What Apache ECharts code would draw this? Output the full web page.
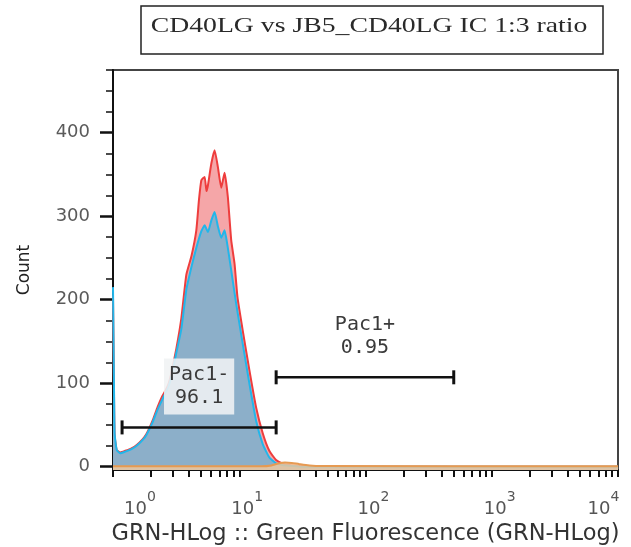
<!DOCTYPE html>
<html>
<head>
<meta charset="utf-8">
<script src="https://cdn.jsdelivr.net/npm/echarts@6/dist/echarts.min.js"></script>
<style>
  html, body { margin: 0; padding: 0; background: #fff; }
  #chart { width: 631px; height: 547px; }
</style>
</head>
<body>
<div id="chart"></div>
<script>
// histogram curves: [GRN-HLog value, count]
const sampleRed = [
  [1.0, 205], [1.015, 110], [1.03, 38], [1.07, 20], [1.14, 17], [1.25, 19], [1.4, 22],
  [1.54, 26], [1.72, 33], [1.84, 39], [2.07, 56], [2.25, 71], [2.45, 84], [2.6, 91],
  [2.75, 99], [2.9, 112], [3.18, 142], [3.48, 178], [3.81, 230], [4.18, 252], [4.57, 283],
  [4.8, 320], [5.01, 343], [5.32, 347], [5.5, 330], [5.65, 337], [6.01, 363], [6.38, 379],
  [6.77, 359], [7.2, 334], [7.65, 352], [8.12, 323], [8.64, 271], [9.18, 243], [9.68, 203],
  [10.66, 163], [12.05, 115], [13.6, 71], [15.35, 40], [17.3, 19], [19.56, 8], [21.9, 4],
  [25, 2], [30, 1], [40, 0], [10000, 0]
];
const sampleBlue = [
  [1.0, 215], [1.015, 120], [1.03, 40], [1.07, 20], [1.14, 16], [1.25, 18], [1.4, 21],
  [1.54, 25], [1.72, 32], [1.84, 38], [2.07, 54], [2.25, 68], [2.45, 80], [2.6, 88],
  [2.75, 96], [2.9, 108], [3.18, 137], [3.48, 165], [3.81, 212], [4.18, 239], [4.57, 262],
  [5.01, 282], [5.32, 289], [5.65, 281], [6.01, 295], [6.38, 305], [6.77, 288], [7.2, 274],
  [7.65, 283], [8.12, 262], [8.64, 235], [9.46, 195], [10.66, 147], [12.05, 99], [13.6, 55],
  [15.35, 27], [17.3, 11], [19.56, 4], [21.9, 2], [25, 1], [30, 0], [10000, 0]
];
const sampleOrange = [
  [1, 0.5], [15, 0.5], [18, 1.5], [20, 3.5], [23, 5], [26, 4.5], [30, 3], [36, 1.5],
  [45, 0.8], [10000, 0.5]
];

// gates
const gateNames = ['Pac1-', 'Pac1+'];
const gatePercents = ['96.1', '0.95'];
const gateRanges = [[1.18, 19.6], [19.6, 500]];
const gateLevels = [47, 107];

// axes
const xMajorTicks = [1, 10, 100, 1000, 10000];
const yMajorTicks = [0, 100, 200, 300, 400];
const yMinorTicks = [25, 50, 75, 125, 150, 175, 225, 250, 275, 325, 350, 375, 425, 450, 475];
// all x ticks: decades plus 2..9 inside each decade
const xAllTicks = xMajorTicks.slice();
xMajorTicks.slice(0, -1).forEach(d => { for (let k = 2; k <= 9; k++) xAllTicks.push(d * k); });

const chart = echarts.init(document.getElementById('chart'));

const option = {
  animation: false,
  backgroundColor: '#fff',
  grid: {
    left: 113, right: 13, top: 70, bottom: 77,
    outerBoundsMode: 'none',
    show: true, borderColor: '#444', borderWidth: 2, backgroundColor: '#fff'
  },
  xAxis: {
    type: 'log', logBase: 10, min: 1, max: 10000, position: 'bottom',
    name: 'GRN-HLog :: Green Fluorescence (GRN-HLog)',
    nameLocation: 'middle', nameGap: 49,
    nameTextStyle: { fontFamily: 'DejaVu Sans', fontSize: 22.5, color: '#333' },
    axisLine: { onZero: false, lineStyle: { color: '#111', width: 2 } },
    axisTick: { show: true, customValues: xAllTicks, length: 7, lineStyle: { color: '#111', width: 2 } },
    splitLine: { show: false },
    axisLabel: {
      customValues: xMajorTicks,
      margin: 20,
      padding: [0, 0, 0, 16],
      formatter: v => {
        const e = Math.round(Math.log10(v));
        const b = e === 0 ? 'first' : 'b';
        const s = e === 4 ? 'last' : 's';
        return '{' + b + '|10}{' + s + '|' + e + '}';
      },
      rich: {
        b: { fontFamily: 'DejaVu Sans', fontSize: 18, color: '#555', lineHeight: 28, verticalAlign: 'bottom' },
        first: { fontFamily: 'DejaVu Sans', fontSize: 18, color: '#555', lineHeight: 28, verticalAlign: 'bottom', padding: [0, 0, 0, 38] },
        s: { fontFamily: 'DejaVu Sans', fontSize: 14, color: '#555', lineHeight: 28, verticalAlign: 'top' },
        last: { fontFamily: 'DejaVu Sans', fontSize: 14, color: '#555', lineHeight: 28, verticalAlign: 'top', padding: [0, 45, 0, 0] }
      }
    }
  },
  yAxis: [
    {
      type: 'value', min: -4, max: 475,
      name: 'Count', nameLocation: 'middle', nameGap: 80, nameRotate: 90,
      nameTextStyle: { fontFamily: 'DejaVu Sans', fontSize: 17, color: '#222' },
      axisLine: { show: true, onZero: false, lineStyle: { color: '#111', width: 2 } },
      axisTick: { show: true, customValues: yMajorTicks, length: 13, lineStyle: { color: '#111', width: 2.5 } },
      splitLine: { show: false },
      axisLabel: {
        customValues: yMajorTicks, margin: 23,
        fontFamily: 'DejaVu Sans', fontSize: 18, color: '#5a5a5a'
      }
    },
    {
      type: 'value', min: -4, max: 475, position: 'left',
      axisLine: { show: false },
      axisLabel: { show: false },
      splitLine: { show: false },
      axisTick: { show: true, customValues: yMinorTicks, length: 7, lineStyle: { color: '#111', width: 1.5 } }
    }
  ],
  graphic: [
    {
      type: 'rect',
      shape: { x: 141, y: 6, width: 462, height: 48 },
      style: { fill: '#fff', stroke: '#222', lineWidth: 1.5 }
    },
    {
      type: 'text', x: 369, y: 26, scaleX: 1.32,
      style: {
        text: 'CD40LG vs JB5_CD40LG IC 1:3 ratio',
        font: '21px "Liberation Serif"', fill: '#2a2a2a',
        align: 'center', verticalAlign: 'middle'
      }
    }
  ],
  series: [
    {
      type: 'line', data: sampleRed, symbol: 'none', smooth: 0.15, z: 2,
      lineStyle: { color: '#ee3d3d', width: 2 },
      areaStyle: { color: '#f5a6a8', opacity: 1, origin: 'start' }
    },
    {
      type: 'line', data: sampleBlue, symbol: 'none', smooth: 0.15, z: 3,
      lineStyle: { color: '#22b6ea', width: 2 },
      areaStyle: { color: '#8cafc9', opacity: 1, origin: 'start' }
    },
    {
      type: 'line', data: sampleOrange, symbol: 'none', smooth: 0.3, z: 4,
      lineStyle: { color: '#e69a52', width: 2 },
      areaStyle: { color: '#f3c89c', opacity: 0.8, origin: 'start' }
    },
    {
      type: 'custom', z: 10,
      data: gateRanges.map((r, i) => [r[0], r[1], gateLevels[i], i]),
      encode: { x: [0, 1], y: 2 },
      renderItem: (params, api) => {
        const i = api.value(3);
        const a = api.coord([api.value(0), api.value(2)]);
        const b = api.coord([api.value(1), api.value(2)]);
        const cap = { stroke: '#111', lineWidth: 3 };
        return {
          type: 'group',
          children: [
            { type: 'line', shape: { x1: a[0], y1: a[1], x2: b[0], y2: b[1] }, style: { stroke: '#111', lineWidth: 2.5 } },
            { type: 'line', shape: { x1: a[0], y1: a[1] - 7, x2: a[0], y2: a[1] + 7 }, style: cap },
            { type: 'line', shape: { x1: b[0], y1: b[1] - 7, x2: b[0], y2: b[1] + 7 }, style: cap },
            {
              type: 'text', x: (a[0] + b[0]) / 2, y: a[1] - 41,
              style: {
                text: gateNames[i] + '\n' + gatePercents[i],
                font: '20px "DejaVu Sans Mono"', fill: '#3a3a3a', lineHeight: 23,
                align: 'center', verticalAlign: 'middle',
                backgroundColor: i === 0 ? 'rgba(240,242,244,0.88)' : 'transparent',
                padding: [5, 5]
              }
            }
          ]
        };
      }
    }
  ]
};

chart.setOption(option);
</script>
</body>
</html>
